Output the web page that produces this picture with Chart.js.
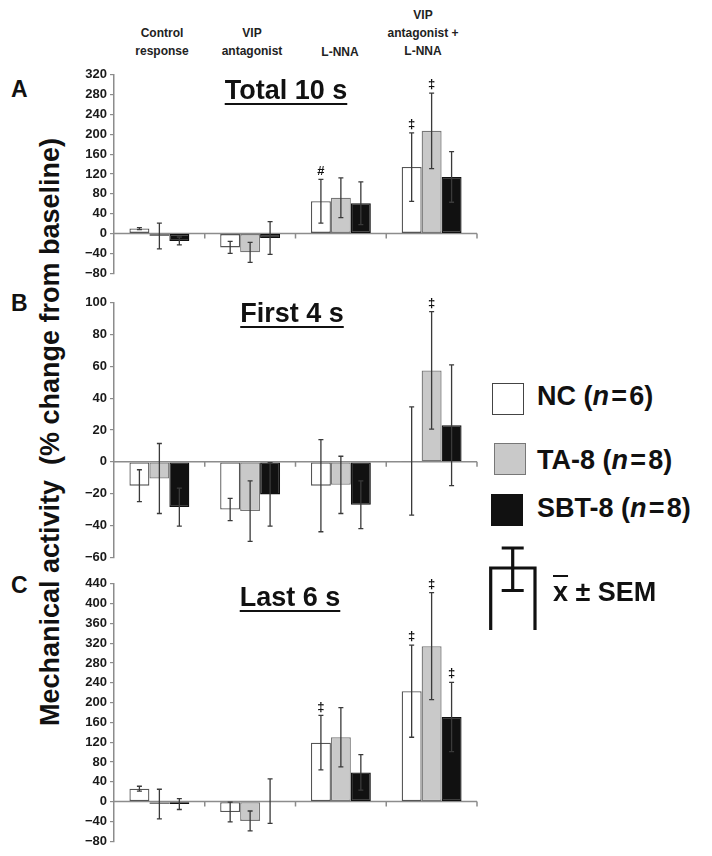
<!DOCTYPE html>
<html><head><meta charset="utf-8">
<script src="https://cdn.jsdelivr.net/npm/chart.js@4.4.0/dist/chart.umd.min.js"></script>
<style>
html,body{margin:0;padding:0;background:#fff;}
body{width:712px;height:856px;position:relative;overflow:hidden;font-family:Arial,"Liberation Sans",sans-serif;color:#111;}
canvas{position:absolute;}
.hdr{position:absolute;width:130px;text-align:center;font-weight:bold;font-size:12px;line-height:18px;color:#222;}
.ttl{position:absolute;width:240px;text-align:center;font-weight:bold;font-size:27px;line-height:27px;text-decoration:underline;text-decoration-thickness:2px;text-underline-offset:4px;color:#111;}
.let{position:absolute;font-weight:bold;font-size:23px;line-height:22px;color:#111;}
.leg{position:absolute;font-weight:bold;font-size:27px;line-height:27px;white-space:nowrap;color:#111;}
.box{position:absolute;width:32px;height:32px;box-sizing:border-box;}
#ylab{position:absolute;left:-300px;top:416px;width:700px;height:32px;line-height:32px;text-align:center;font-weight:bold;font-size:27px;white-space:nowrap;transform:rotate(-90deg);transform-origin:350px 16px;color:#111;}
</style>
</head><body>
<div class="hdr" style="left:97px;top:24px;">Control<br>response</div>
<div class="hdr" style="left:187px;top:24px;">VIP<br>antagonist</div>
<div class="hdr" style="left:275px;top:43px;">L-NNA</div>
<div class="hdr" style="left:358px;top:6px;">VIP<br>antagonist +<br>L-NNA</div>

<div class="let" style="left:11px;top:78px;">A</div>
<div class="let" style="left:11px;top:292px;">B</div>
<div class="let" style="left:11px;top:574px;">C</div>

<div id="ylab">Mechanical activity&nbsp; (% change from baseline)</div>

<canvas id="cA" width="424" height="220" style="left:60px;top:64px;width:424px;height:220px;"></canvas>
<canvas id="cB" width="424" height="276" style="left:60px;top:292px;width:424px;height:276px;"></canvas>
<canvas id="cC" width="424" height="279" style="left:60px;top:573px;width:424px;height:279px;"></canvas>

<div class="ttl" style="left:166px;top:77px;">Total 10 s</div>
<div class="ttl" style="left:172px;top:300px;">First 4 s</div>
<div class="ttl" style="left:170px;top:584px;">Last 6 s</div>

<div class="box" style="left:492px;top:383px;background:#fff;border:1.5px solid #444;"></div>
<div class="box" style="left:494px;top:443px;background:#c9c9c9;border:1.5px solid #777;"></div>
<div class="box" style="left:491px;top:494px;background:#111;border:1.5px solid #111;"></div>
<div class="leg" style="left:537px;top:383px;">NC (<i>n</i>&#8202;=&#8202;6)</div>
<div class="leg" style="left:537px;top:447px;">TA-8 (<i>n</i>&#8202;=&#8202;8)</div>
<div class="leg" style="left:537px;top:495px;">SBT-8 (<i>n</i>&#8202;=&#8202;8)</div>
<svg style="position:absolute;left:488px;top:545px;" width="52" height="85">
  <path d="M2.7 85 V23 H47 V85" fill="none" stroke="#111" stroke-width="3.2"/>
  <path d="M24.7 3 V45.5 M13.7 3 H35.7 M13.7 45.5 H35.7" fill="none" stroke="#111" stroke-width="3.2"/>
</svg>
<div class="leg" style="left:553px;top:579px;"><span style="text-decoration:overline;text-decoration-thickness:2px;">x</span> ± SEM</div>

<script>
// ---- data ----
const categories = ["Control response", "VIP antagonist", "L-NNA", "VIP antagonist + L-NNA"];
const seriesNames = ["NC (n=6)", "TA-8 (n=8)", "SBT-8 (n=8)"];

// Panel A: Total 10 s
const totalNC = [10, -28, 65, 134];
const totalNCsem = [2, 12, 44, 69];
const totalTA = [-5, -38, 72, 207];
const totalTAsem = [26, 20, 40, 76];
const totalSBT = [-15, -9, 61, 114];
const totalSBTsem = [8, 33, 43, 51];
const totalNCmarks = ["", "", "#", "\u2021"];
const totalTAmarks = ["", "", "", "\u2021"];
const totalSBTmarks = ["", "", "", ""];

// Panel B: First 4 s
const firstNC = [-15, -30, -15, 0.5];
const firstNCsem = [10, 7, 29, 34];
const firstTA = [-10.5, -31, -14.5, 57.5];
const firstTAsem = [22, 19, 18, 37];
const firstSBT = [-28.5, -20.5, -27, 23];
const firstSBTsem = [12, 20, 15, 38];
const firstNCmarks = ["", "", "", ""];
const firstTAmarks = ["", "", "", "\u2021"];
const firstSBTmarks = ["", "", "", ""];

// Panel C: Last 6 s
const lastNC = [26, -21, 119, 223];
const lastNCsem = [5, 20, 55, 93];
const lastTA = [-5, -39, 130, 314];
const lastTAsem = [30, 20, 60, 108];
const lastSBT = [-5, 1, 59, 171];
const lastSBTsem = [11, 45, 36, 70];
const lastNCmarks = ["", "", "\u2021", "\u2021"];
const lastTAmarks = ["", "", "", "\u2021"];
const lastSBTmarks = ["", "", "", "\u2021"];

// y tick ranges
const yA = {min: -80, max: 320, step: 40};
const yB = {min: -60, max: 100, step: 20};
const yC = {min: -80, max: 440, step: 40};

// ---- drawing ----
const FONT = 'Arial, "Liberation Sans", sans-serif';
const fills = ["#ffffff", "#c9c9c9", "#111111"];
const borders = ["#555555", "#777777", "#111111"];

const errPlugin = {
  id: 'errbars',
  beforeDatasetsDraw(chart) {
    const {ctx, chartArea: a, scales: {y}} = chart;
    const y0 = y.getPixelForValue(0);
    const n = chart.data.labels.length;
    const w = (a.right - a.left) / n;
    ctx.save();
    ctx.strokeStyle = '#8c8c8c';
    ctx.lineWidth = 1.5;
    ctx.beginPath();
    ctx.moveTo(a.left, y0); ctx.lineTo(a.right, y0);
    for (let i = 1; i <= n; i++) {
      const x = a.left + i * w;
      ctx.moveTo(x, y0); ctx.lineTo(x, y0 + 5);
    }
    ctx.stroke();
    ctx.restore();
  },
  afterDatasetsDraw(chart) {
    const {ctx, scales: {y}} = chart;
    chart.data.datasets.forEach((ds, di) => {
      const meta = chart.getDatasetMeta(di);
      meta.data.forEach((bar, i) => {
        const v = ds.data[i], s = ds.sem[i];
        const x = bar.x;
        const yt = y.getPixelForValue(v + s), yb = y.getPixelForValue(v - s);
        ctx.save();
        ctx.strokeStyle = '#3a3a3a';
        ctx.lineWidth = 1.3;
        ctx.beginPath();
        ctx.moveTo(x, yt); ctx.lineTo(x, yb);
        ctx.moveTo(x - 2.5, yt); ctx.lineTo(x + 2.5, yt);
        ctx.moveTo(x - 2.5, yb); ctx.lineTo(x + 2.5, yb);
        ctx.stroke();
        const m = ds.marks[i];
        if (m) {
          ctx.fillStyle = '#111';
          ctx.font = 'bold 13px ' + FONT;
          ctx.textAlign = 'center';
          ctx.textBaseline = 'bottom';
          ctx.fillText(m, x, yt - 2);
        }
        ctx.restore();
      });
    });
  }
};

function makeChart(id, vals, sems, marks, yr) {
  const datasets = seriesNames.map((name, k) => ({
    label: name,
    data: vals[k],
    sem: sems[k],
    marks: marks[k],
    backgroundColor: fills[k],
    borderColor: borders[k],
    borderWidth: 1.3,
    borderSkipped: false,
    categoryPercentage: 0.66,
    barPercentage: 1.0
  }));
  return new Chart(document.getElementById(id), {
    type: 'bar',
    data: {labels: categories, datasets},
    options: {
      responsive: false,
      animation: false,
      events: [],
      layout: {padding: {top: 10, bottom: 10, left: 0, right: 7}},
      plugins: {legend: {display: false}, tooltip: {enabled: false}, title: {display: false}},
      scales: {
        x: {display: false},
        y: {
          min: yr.min, max: yr.max,
          afterFit(scale) { scale.width = 54; },
          border: {display: true, color: '#8c8c8c', width: 1.5},
          grid: {display: true, drawOnChartArea: false, drawTicks: true, tickLength: 4, color: '#8c8c8c', lineWidth: 1.2},
          ticks: {
            stepSize: yr.step,
            padding: 3,
            color: '#1a1a1a',
            font: {family: FONT, size: 13, weight: 'bold'},
            callback: v => String(v).replace('-', '\u2212')
          }
        }
      }
    },
    plugins: [errPlugin]
  });
}

makeChart('cA', [totalNC, totalTA, totalSBT], [totalNCsem, totalTAsem, totalSBTsem], [totalNCmarks, totalTAmarks, totalSBTmarks], yA);
makeChart('cB', [firstNC, firstTA, firstSBT], [firstNCsem, firstTAsem, firstSBTsem], [firstNCmarks, firstTAmarks, firstSBTmarks], yB);
makeChart('cC', [lastNC, lastTA, lastSBT], [lastNCsem, lastTAsem, lastSBTsem], [lastNCmarks, lastTAmarks, lastSBTmarks], yC);
</script>
</body></html>
